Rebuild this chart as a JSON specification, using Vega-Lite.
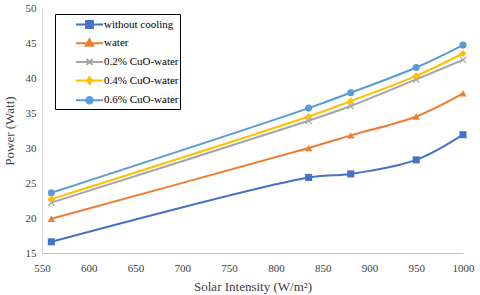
{
  "$schema": "https://vega.github.io/schema/vega-lite/v6.json",
  "width": 421,
  "height": 245,
  "autosize": {"type": "none"},
  "padding": {"left": 42, "top": 8, "right": 17, "bottom": 42},
  "background": "white",
  "config": {"view": {"stroke": null}, "font": "Liberation Serif"},
  "data": {"values": [
    {"series": "without cooling", "intensity": 560, "power": 16.6},
    {"series": "without cooling", "intensity": 835, "power": 25.8},
    {"series": "without cooling", "intensity": 880, "power": 26.3},
    {"series": "without cooling", "intensity": 950, "power": 28.3},
    {"series": "without cooling", "intensity": 1000, "power": 31.9},
    {"series": "water", "intensity": 560, "power": 19.9},
    {"series": "water", "intensity": 835, "power": 30.0},
    {"series": "water", "intensity": 880, "power": 31.8},
    {"series": "water", "intensity": 950, "power": 34.5},
    {"series": "water", "intensity": 1000, "power": 37.8},
    {"series": "0.2% CuO-water", "intensity": 560, "power": 22.2},
    {"series": "0.2% CuO-water", "intensity": 835, "power": 33.9},
    {"series": "0.2% CuO-water", "intensity": 880, "power": 36.0},
    {"series": "0.2% CuO-water", "intensity": 950, "power": 39.8},
    {"series": "0.2% CuO-water", "intensity": 1000, "power": 42.6},
    {"series": "0.4% CuO-water", "intensity": 560, "power": 22.7},
    {"series": "0.4% CuO-water", "intensity": 835, "power": 34.5},
    {"series": "0.4% CuO-water", "intensity": 880, "power": 36.7},
    {"series": "0.4% CuO-water", "intensity": 950, "power": 40.3},
    {"series": "0.4% CuO-water", "intensity": 1000, "power": 43.5},
    {"series": "0.6% CuO-water", "intensity": 560, "power": 23.6},
    {"series": "0.6% CuO-water", "intensity": 835, "power": 35.7},
    {"series": "0.6% CuO-water", "intensity": 880, "power": 37.9},
    {"series": "0.6% CuO-water", "intensity": 950, "power": 41.5},
    {"series": "0.6% CuO-water", "intensity": 1000, "power": 44.7}
  ]},
  "encoding": {
    "x": {
      "field": "intensity", "type": "quantitative",
      "scale": {"domain": [550, 1000], "nice": false, "zero": false},
      "axis": {
        "values": [550, 600, 650, 700, 750, 800, 850, 900, 950, 1000],
        "format": "d",
        "labelFlush": false,
        "title": "Solar Intensity (W/m²)",
        "grid": false, "ticks": false,
        "domainColor": "#bfbfbf", "domainWidth": 1,
        "labelFont": "Liberation Serif", "labelFontSize": 11, "labelColor": "#404040",
        "labelPadding": 9,
        "titleFont": "Liberation Serif", "titleFontSize": 13, "titleFontWeight": "normal", "titleColor": "#404040",
        "titlePadding": 7
      }
    },
    "y": {
      "field": "power", "type": "quantitative",
      "scale": {"domain": [15, 50], "nice": false, "zero": false},
      "axis": {
        "values": [15, 20, 25, 30, 35, 40, 45, 50],
        "labelFlush": false,
        "title": "Power (Watt)",
        "grid": false, "ticks": false,
        "domainColor": "#d9d9d9", "domainWidth": 1,
        "labelFont": "Liberation Serif", "labelFontSize": 11, "labelColor": "#404040",
        "labelPadding": 6,
        "titleFont": "Liberation Serif", "titleFontSize": 13, "titleFontWeight": "normal", "titleColor": "#404040",
        "titlePadding": 9
      }
    },
    "color": {
      "field": "series", "type": "nominal",
      "scale": {
        "domain": ["without cooling", "water", "0.2% CuO-water", "0.4% CuO-water", "0.6% CuO-water"],
        "range": ["#4472C4", "#ED7D31", "#A5A5A5", "#FFC000", "#5B9BD5"]
      },
      "legend": {
        "orient": "none", "legendX": 13, "legendY": 6,
        "title": null,
        "strokeColor": "black", "fillColor": "white",
        "padding": 1,
        "labelFont": "Liberation Serif", "labelFontSize": 11, "labelColor": "black",
        "labelExpr": "datum.label + '\u00a0\u00a0\u00a0\u00a0\u00a0\u00a0\u00a0\u00a0\u00a0\u00a0\u00a0\u00a0\u00a0'",
        "symbolSize": 289, "symbolStrokeWidth": 2,
        "symbolOffset": 24,
        "labelOffset": 5, "rowPadding": 1.7,
        "encode": {
          "symbols": {
            "update": {
              "shape": {"signal": "datum.value === 'without cooling' ? 'M-1.6,0H1.6M-0.4,-0.4H0.4V0.4H-0.4Z' : datum.value === 'water' ? 'M-1.6,0H1.6M0,-0.45L0.42,0.3L-0.42,0.3Z' : datum.value === '0.2% CuO-water' ? 'M-1.6,0H1.6M-0.35,-0.35L0.35,0.35M-0.35,0.35L0.35,-0.35' : datum.value === '0.4% CuO-water' ? 'M-1.6,0H1.6M0,-0.42L0.32,0L0,0.42L-0.32,0Z' : 'M-1.6,0H1.6M-0.38,0A0.38,0.38,0,1,1,0.38,0A0.38,0.38,0,1,1,-0.38,0Z'"},
              "fill": {"scale": "color", "field": "value"},
              "stroke": {"scale": "color", "field": "value"},
              "strokeWidth": {"value": 2},
              "opacity": {"value": 1}
            }
          }
        }
      }
    }
  },
  "layer": [
    {"mark": {"type": "line", "interpolate": "catmull-rom", "strokeWidth": 2}},
    {
      "transform": [{"filter": "datum.series === 'without cooling'"}],
      "mark": {"type": "point", "filled": true, "size": 50, "opacity": 1, "shape": "square"}
    },
    {
      "transform": [{"filter": "datum.series === 'water'"}],
      "mark": {"type": "point", "filled": true, "size": 55, "opacity": 1, "shape": "triangle-up"}
    },
    {
      "transform": [{"filter": "datum.series === '0.2% CuO-water'"}],
      "mark": {"type": "point", "filled": true, "size": 50, "opacity": 1, "shape": "M-1,-0.75L-0.75,-1L0,-0.25L0.75,-1L1,-0.75L0.25,0L1,0.75L0.75,1L0,0.25L-0.75,1L-1,0.75L-0.25,0Z"}
    },
    {
      "transform": [{"filter": "datum.series === '0.4% CuO-water'"}],
      "mark": {"type": "point", "filled": true, "size": 50, "opacity": 1, "shape": "diamond"}
    },
    {
      "transform": [{"filter": "datum.series === '0.6% CuO-water'"}],
      "mark": {"type": "point", "filled": true, "size": 50, "opacity": 1, "shape": "circle"}
    }
  ]
}
